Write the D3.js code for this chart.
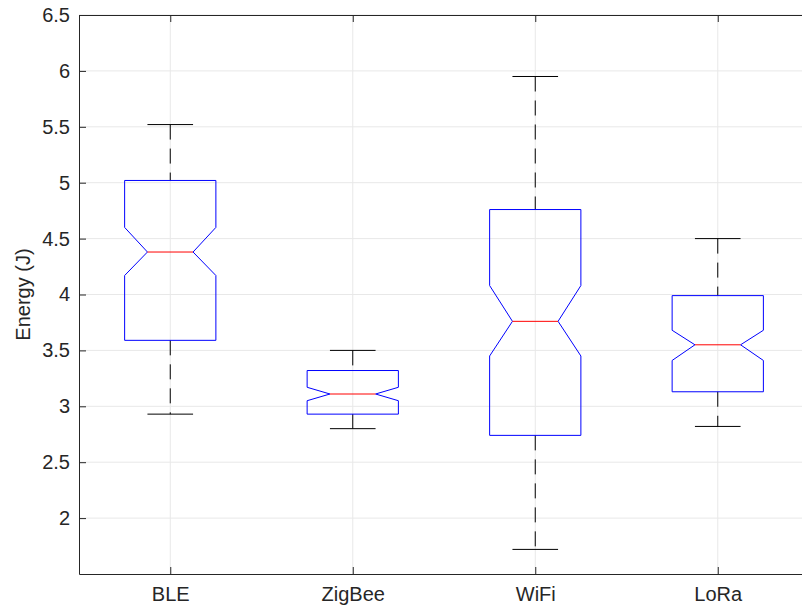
<!DOCTYPE html>
<html>
<head>
<meta charset="utf-8">
<script src="https://cdn.jsdelivr.net/npm/d3@7"></script>
<style>
  body { margin: 0; background: #fff; }
  svg { display: block; font-family: "Liberation Sans", Arial, sans-serif; }
</style>
</head>
<body>
<svg width="802" height="606"></svg>
<script>
// box plot values
const categories = ["BLE", "ZigBee", "WiFi", "LoRa"];
const q1 = [3.59, 2.93, 2.74, 3.13];
const medians = [4.38, 3.11, 3.76, 3.55];
const q3 = [5.02, 3.32, 4.76, 3.99];
const notchLo = [4.17, 3.05, 3.45, 3.41];
const notchHi = [4.60, 3.17, 4.08, 3.68];
const whiskerLo = [2.93, 2.80, 1.72, 2.82];
const whiskerHi = [5.52, 3.50, 5.95, 4.50];
const yTicks = [2, 2.5, 3, 3.5, 4, 4.5, 5, 5.5, 6, 6.5];

const svg = d3.select("svg");
const mLeft = 79, mTop = 15, mRight = 809, mBottom = 574;

const x = d3.scaleLinear().domain([0.5, 4.5]).range([mLeft, mRight]);
const y = d3.scaleLinear().domain([1.5, 6.5]).range([mBottom, mTop]);

const boxes = categories.map((name, i) => ({
  name, pos: i + 1, q1: q1[i], med: medians[i], q3: q3[i],
  nlo: notchLo[i], nhi: notchHi[i], wlo: whiskerLo[i], whi: whiskerHi[i]
}));

// grid
svg.append("g").selectAll("line").data(yTicks).enter().append("line")
  .attr("x1", mLeft).attr("x2", mRight)
  .attr("y1", d => y(d)).attr("y2", d => y(d))
  .attr("stroke", "#e8e8e8").attr("stroke-width", 1);
svg.append("g").selectAll("line").data(boxes).enter().append("line")
  .attr("x1", d => x(d.pos)).attr("x2", d => x(d.pos))
  .attr("y1", mTop).attr("y2", mBottom)
  .attr("stroke", "#e8e8e8").attr("stroke-width", 1);

// axes
svg.append("g").attr("transform", `translate(${mLeft},0)`)
  .call(d3.axisLeft(y).tickValues(yTicks).tickFormat(d3.format("")).tickSizeInner(-7).tickSizeOuter(0).tickPadding(9));
svg.append("g").attr("transform", `translate(0,${mBottom})`)
  .call(d3.axisBottom(x).tickValues(boxes.map(d => d.pos)).tickFormat((d, i) => categories[i]).tickSizeInner(-7).tickSizeOuter(0).tickPadding(13));
svg.append("g").attr("transform", `translate(0,${mTop})`)
  .call(d3.axisTop(x).tickValues(boxes.map(d => d.pos)).tickFormat("").tickSizeInner(-7).tickSizeOuter(0));

svg.selectAll(".domain, .tick line").attr("stroke", "#262626");
svg.selectAll(".tick text").attr("fill", "#262626").style("font-size", "20px")
  .style("font-family", "'Liberation Sans', Arial, sans-serif");

svg.append("text")
  .attr("transform", `translate(30,${(mTop + mBottom) / 2}) rotate(-90)`)
  .attr("text-anchor", "middle")
  .attr("fill", "#262626")
  .style("font-size", "20px")
  .text("Energy (J)");

const halfW = (x(1.25) - x(1));
const notchW = halfW / 2;

const g = svg.append("g").selectAll("g").data(boxes).enter().append("g");

// whiskers (dashes start at the cap above and at the box below)
g.append("line")
  .attr("x1", d => x(d.pos)).attr("x2", d => x(d.pos))
  .attr("y1", d => y(d.whi)).attr("y2", d => y(d.q3))
  .attr("stroke", "#000").attr("stroke-dasharray", "15,9");
g.append("line")
  .attr("x1", d => x(d.pos)).attr("x2", d => x(d.pos))
  .attr("y1", d => y(d.q1)).attr("y2", d => y(d.wlo))
  .attr("stroke", "#000").attr("stroke-dasharray", "15,9");
// caps
["whi", "wlo"].forEach(k => {
  g.append("line")
    .attr("x1", d => x(d.pos) - notchW).attr("x2", d => x(d.pos) + notchW)
    .attr("y1", d => y(d[k])).attr("y2", d => y(d[k]))
    .attr("stroke", "#000");
});

// notched boxes
g.append("path")
  .attr("d", d => {
    const l = x(d.pos) - halfW, r = x(d.pos) + halfW;
    const pts = [
      [l, y(d.q3)], [r, y(d.q3)], [r, y(d.nhi)], [r - notchW, y(d.med)],
      [r, y(d.nlo)], [r, y(d.q1)], [l, y(d.q1)], [l, y(d.nlo)],
      [l + notchW, y(d.med)], [l, y(d.nhi)]
    ];
    return d3.line()(pts) + "Z";
  })
  .attr("fill", "none").attr("stroke", "#0000ff").attr("stroke-width", 1);

// medians
g.append("line")
  .attr("x1", d => x(d.pos) - halfW + notchW).attr("x2", d => x(d.pos) + halfW - notchW)
  .attr("y1", d => y(d.med)).attr("y2", d => y(d.med))
  .attr("stroke", "#ff0000");
</script>
</body>
</html>
